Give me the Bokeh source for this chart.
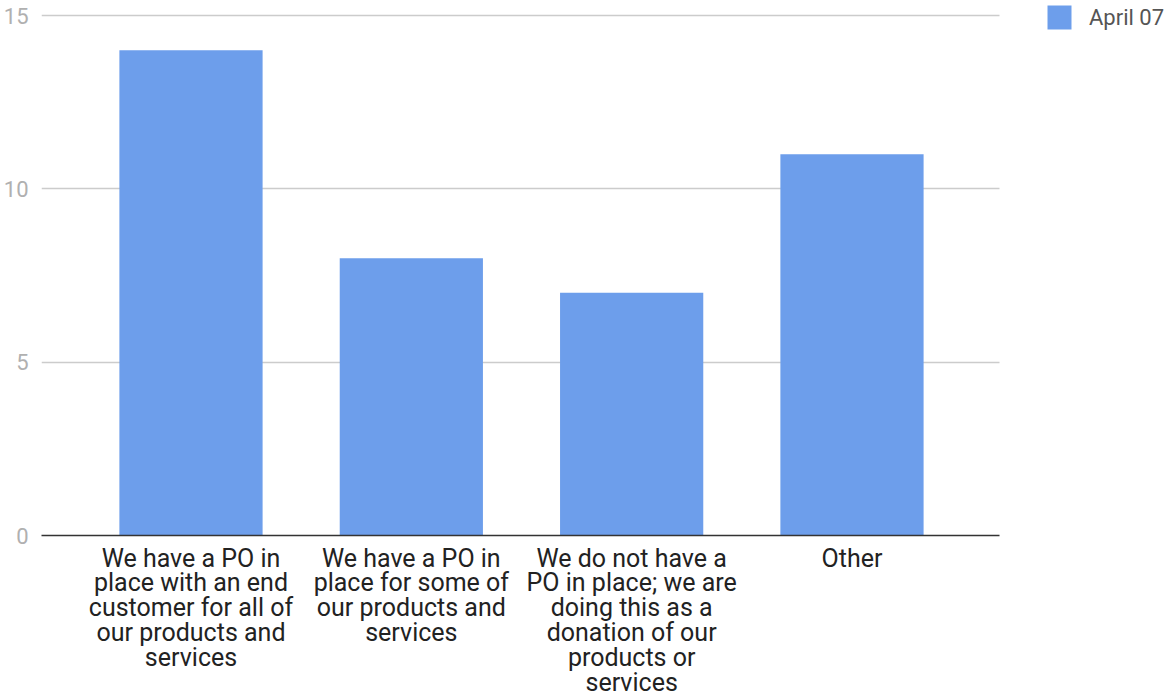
from bokeh.plotting import figure
from bokeh.models import ColumnDataSource, FixedTicker, Range1d, Legend, LegendItem
from bokeh.embed import file_html
from bokeh.resources import INLINE

categories = [
    "We have a PO in\nplace with an end\ncustomer for all of\nour products and\nservices",
    "We have a PO in\nplace for some of\nour products and\nservices",
    "We do not have a\nPO in place; we are\ndoing this as a\ndonation of our\nproducts or\nservices",
    "Other",
]
values = [14, 8, 7, 11]
series_name = "April 07"
y_ticks = [0, 5, 10, 15]

xs = list(range(len(categories)))
src = ColumnDataSource(dict(x=xs, top=values))

X0, X1, XEND = -0.6785, 3.6695, 4.4229
p = figure(width=1164, height=696, output_backend="svg", toolbar_location=None,
           x_range=Range1d(X0, XEND), y_range=Range1d(0, 15.433),
           min_border_left=40, min_border_right=0, min_border_top=0,
           min_border_bottom=0)
p.frame_width = 1124
p.frame_height = 535
p.outline_line_color = None
p.background_fill_color = "white"
p.border_fill_color = "white"

r = p.vbar(x="x", top="top", width=0.65, source=src, fill_color="#6d9eeb", line_color=None)

p.xaxis.ticker = FixedTicker(ticks=xs)
p.xaxis.bounds = (X0, X1)
p.xaxis.major_label_overrides = {i: c for i, c in enumerate(categories)}
p.xaxis.major_label_text_font = "Roboto"
p.xaxis.major_label_text_font_size = "25px"
p.xaxis.major_label_text_line_height = 0.86
p.xaxis.major_label_text_color = "#222222"
p.xaxis.major_tick_line_color = None
p.xaxis.minor_tick_line_color = None
p.xaxis.axis_line_color = "#333333"
p.xaxis.axis_line_width = 1.5
p.xaxis.major_label_standoff = 2
p.xgrid.grid_line_color = None

p.yaxis.ticker = FixedTicker(ticks=y_ticks)
p.yaxis.major_label_text_font = "Roboto"
p.yaxis.major_label_text_font_size = "22px"
p.yaxis.major_label_text_color = "#b0b0b0"
p.yaxis.major_tick_line_color = None
p.yaxis.minor_tick_line_color = None
p.yaxis.axis_line_color = None
p.yaxis.major_label_standoff = 7
p.ygrid.grid_line_color = "#cccccc"
p.ygrid.grid_line_width = 1.5
p.ygrid.cross_bounds = (X0, X1)

legend = Legend(items=[LegendItem(label=series_name, renderers=[r])],
                location=(1003, 503), border_line_color=None, background_fill_alpha=0,
                label_text_font="Roboto", label_text_font_size="22px",
                label_text_color="#555555", glyph_width=30, glyph_height=30,
                label_standoff=15, padding=0, margin=0)
p.add_layout(legend, "center")

open("out.html", "w").write(file_html(p, INLINE))
